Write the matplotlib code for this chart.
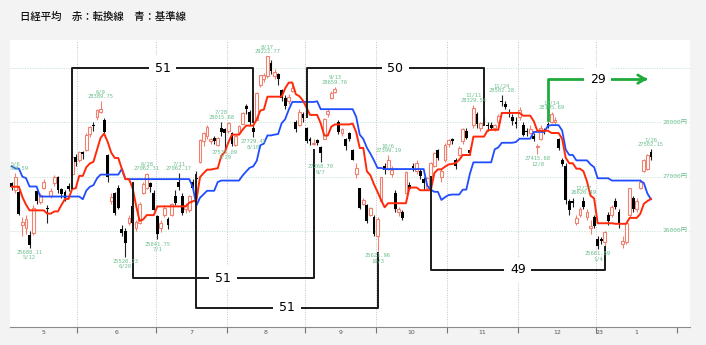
import numpy as np
import pandas as pd
import matplotlib
matplotlib.use("Agg")
import matplotlib.pyplot as plt

plt.rcParams['font.family'] = ['DejaVu Sans', 'Noto Sans CJK JP']

# 日経平均 日足 2022/5/2 - 2023/1/26
opens = [
    26880, 26760, 26720, 26100, 26050, 25920, 25960, 26740, 26540, 26800, 26430, 26650, 26880, 27000, 26780, 26720, 26830, 27050, 27370,
    27300, 27450, 27500, 27780, 27960, 28100, 28200, 28050, 27400, 26550, 26700, 26800, 26030, 26000, 26150, 26460, 26060, 26150, 26700, 26800, 26880, 26700,
    26280, 26050, 26300, 26220, 26300, 26650, 26900, 26650, 26400, 26380, 26900, 26980, 27280, 27650, 27760, 27660, 27720, 27580, 27900, 27880,
    27850, 27800, 27580, 27800, 27980, 28300, 28200, 27900, 28050, 28700, 28800, 28850, 29100, 28850, 28900, 28600, 28450, 28400, 28580, 28000, 27950, 28150,
    27900, 27700, 27600, 27680, 27550, 27700, 28150, 28450, 28560, 28000, 27800, 27700, 27800, 27500, 27050, 26800, 26500, 26480, 26300, 26250,
    25900, 26550, 27200, 27150, 27050, 26700, 26350, 26350, 26700, 26850, 27200, 27100, 27100, 26950, 26800, 27000, 27200, 27500, 27000, 27300,
    27600, 27700, 27300, 27400, 27650, 27850, 27500, 27950, 28150, 27900, 28050, 27950, 27950, 27900, 28000, 28400, 28350, 28200, 28100, 28000,
    28100, 27950, 27850, 27800, 27750, 27550, 27700, 27850, 27980, 28000, 28000, 27700, 27300, 27200, 26550, 26550, 26150, 26300, 26550, 26250, 26050, 26250,
    25850, 25850, 25800, 26300, 26300, 26550, 26350, 25750, 25800, 26300, 26600, 26400, 26800, 27100, 27150, 27450,
]
highs = [
    26910, 27069.59, 26760, 26250, 26300, 26000, 26470, 26760, 26700, 26950, 26470, 26800, 27030, 27020, 26800, 26750, 26880, 27400, 27420,
    27480, 27470, 27800, 27940, 28000, 28250, 28389.75, 28080, 27420, 26700, 26720, 26850, 26100, 26050, 26300, 26480, 26200, 26530, 26900, 27062.31, 26900, 26750,
    26300, 26200, 26470, 26260, 26520, 26750, 27062.17, 26700, 26520, 26670, 26960, 27100, 27700, 27830, 27960, 27720, 27760, 27730, 28015.68, 27900,
    28010, 27820, 27760, 27950, 28200, 28350, 28230, 27950, 28560, 28880, 28920, 29222.77, 29150, 28990, 28920, 28620, 28500, 28530, 28700, 28050, 28250, 28200,
    27920, 27730, 27700, 27700, 27560, 28080, 28250, 28580, 28659.76, 28050, 27900, 27720, 27820, 27520, 27250, 26750, 26600, 26500, 26450, 26300,
    26250, 27000, 27250, 27399.19, 27200, 26750, 26450, 26380, 27100, 26900, 27250, 27300, 27150, 27000, 27000, 27270, 27450, 27520, 27150, 27620,
    27700, 27720, 27350, 27560, 27900, 27900, 27550, 28329.54, 28200, 28000, 28100, 28000, 28000, 27980, 28150, 28502.28, 28400, 28250, 28150, 28100,
    28280, 28000, 27900, 27950, 27800, 27600, 27950, 27900, 28000, 28195.69, 28100, 27720, 27350, 27250, 26580, 26600, 26300, 26450, 26620.49, 26400, 26200, 26300,
    25900, 25880, 26000, 26350, 26480, 26600, 26400, 25900, 26150, 26800, 26650, 26600, 26950, 27320, 27420, 27502.15,
]
lows = [
    26760, 26700, 26290, 25900, 25950, 25688.11, 25930, 26490, 26500, 26780, 26150, 26600, 26830, 26700, 26600, 26550, 26740, 27040, 27200,
    27280, 27330, 27480, 27740, 27850, 28050, 28180, 27800, 26900, 26500, 26300, 26400, 25900, 25520.23, 26100, 26100, 26000, 26130, 26680, 26780, 26720, 26380,
    25841.75, 25980, 26250, 26030, 26280, 26480, 26750, 26300, 26330, 26350, 26750, 26900, 27250, 27560, 27700, 27600, 27600, 27560, 27760, 27535.09,
    27800, 27560, 27560, 27780, 27970, 28150, 27950, 27729.45, 28040, 28650, 28750, 28830, 28900, 28800, 28700, 28400, 28250, 28350, 28560, 27820, 27930, 28000,
    27630, 27580, 27580, 27580, 27268.70, 27690, 28100, 28430, 28540, 27780, 27760, 27500, 27650, 27300, 26980, 26400, 26480, 26150, 26280, 25900,
    25621.96, 26540, 27050, 27120, 27000, 26350, 26280, 26200, 26680, 26750, 27100, 27050, 26950, 26750, 26780, 26950, 27180, 27300, 26900, 27280,
    27550, 27600, 27150, 27380, 27600, 27700, 27400, 27900, 27900, 27850, 27950, 27850, 27880, 27850, 27980, 28300, 28250, 28100, 27950, 27900,
    28050, 27750, 27750, 27780, 27650, 27415.68, 27680, 27780, 27900, 27990, 27980, 27500, 27200, 26500, 26300, 26450, 26100, 26250, 26400, 26200, 25950, 26050,
    25661.89, 25750, 25700, 26100, 26250, 26400, 26050, 25680, 25750, 26250, 26350, 26350, 26780, 27080, 27120, 27300,
]
closes = [
    26818.53, 27003.56, 26319.34, 26167.10, 26213.64, 25748.72, 26427.65, 26547.05, 26659.75, 26911.20, 26402.84, 26739.03, 27001.52, 26748.14, 26677.80, 26604.84, 26781.68, 27369.43, 27279.80,
    27457.89, 27413.88, 27761.57, 27915.89, 27943.95, 28234.29, 28246.53, 27824.29, 26987.44, 26629.86, 26326.16, 26431.20, 25963.00, 25771.22, 26246.31, 26149.55, 26171.25, 26491.97, 26871.27, 27049.47, 26804.60, 26393.04,
    25935.62, 26153.81, 26423.47, 26107.65, 26490.53, 26517.19, 26812.30, 26336.66, 26478.77, 26643.39, 26788.47, 26961.68, 27680.26, 27803.00, 27914.66, 27699.25, 27655.21, 27715.75, 27815.48, 27801.64,
    27993.35, 27594.73, 27741.90, 27932.20, 28175.87, 28249.24, 27999.96, 27819.33, 28546.98, 28871.78, 28868.91, 29222.77, 28942.14, 28930.33, 28794.50, 28452.75, 28313.47, 28479.01, 28641.38, 27878.96, 28195.58, 28091.53,
    27661.47, 27650.84, 27619.61, 27626.51, 27430.30, 28065.28, 28214.75, 28542.11, 28614.63, 27818.62, 27875.91, 27567.65, 27688.42, 27313.13, 27153.83, 26431.55, 26571.87, 26173.98, 26422.05, 25937.21,
    26215.79, 26992.21, 27120.53, 27311.30, 27116.11, 26401.25, 26396.83, 26237.42, 27090.76, 26775.79, 27156.14, 27257.38, 27006.96, 26890.58, 26974.90, 27250.28, 27431.84, 27345.24, 27105.20, 27587.46,
    27678.92, 27663.39, 27199.74, 27527.64, 27872.11, 27716.43, 27446.10, 28263.57, 27963.47, 27990.17, 28028.30, 27930.57, 27899.77, 27944.79, 28115.74, 28383.09, 28283.03, 28162.83, 28027.84, 27968.99,
    28226.08, 27777.90, 27820.40, 27885.87, 27686.40, 27574.43, 27901.01, 27842.33, 27954.85, 28156.21, 28051.70, 27527.12, 27237.64, 26568.03, 26387.72, 26507.87, 26235.25, 26405.87, 26447.87, 26340.50, 26093.67, 26094.50,
    25716.86, 25820.80, 25973.85, 26175.56, 26446.00, 26449.61, 26119.52, 25822.32, 26138.68, 26791.12, 26405.23, 26553.53, 26906.04, 27299.19, 27395.01, 27362.75,
]

# 転換線・基準線の計算用 (2022/3/25 - 4/28)
pre_highs = [28338, 28200, 28252, 28100, 28050, 27900, 27850, 27950, 27550, 27100, 27100, 27000, 26600,
             26900, 27200, 27150, 26950, 27050, 27250, 27580, 27350, 26800, 26800, 26450, 26900]
pre_lows = [28100, 27800, 27900, 27900, 27750, 27500, 27650, 27700, 27300, 26800, 26900, 26750, 26304,
            26400, 26900, 27000, 26750, 26800, 26900, 27250, 27050, 26500, 26550, 26050, 26400]

month_labels = ["5", "6", "7", "8", "9", "10", "11", "12", "1"]
month_days = [19, 22, 20, 22, 20, 20, 20, 22, 16]

# 高値・安値の注記
label_days = [1, 5, 25, 32, 38, 41, 47, 59, 60, 68, 72, 87, 91, 103, 106, 130, 138, 148, 152, 161, 165, 180]
label_dates = ["5/6", "5/12", "6/9", "6/20", "6/28", "7/1", "7/11", "7/28", "7/29", "8/10", "8/17", "9/7",
               "9/13", "10/3", "10/6", "11/11", "11/24", "12/8", "12/14", "12/27", "1/4", "1/26"]
label_high = [True, False, True, False, True, False, True, True, False, False, True, False,
              True, False, True, True, True, False, True, True, False, True]

# 日数カウント (開始日, 終了日, 横線の高さ, 始点側の端, 終点側の端, 日数)
br_start = [17, 83, 34, 52, 118]
br_end = [68, 133, 85, 103, 167]
br_level = [29005, 29005, 25130, 24580, 25280]
br_from = [26800, 28100, 26880, 27030, 26990]
br_to = [28000, 27955, 27490, 25590, 25700]
br_text = ["51", "50", "51", "51", "49"]

arrow_start, arrow_end = 151, 179
arrow_level, arrow_from = 28800, 28050
arrow_text = "29"

price_lines = [26000, 27000, 28000, 29000]
price_labels = [26000, 27000, 28000]

assert len(opens) == len(highs) == len(lows) == len(closes) == sum(month_days)

o = np.array(opens, float)
h = np.array(highs, float)
l = np.array(lows, float)
c = np.array(closes, float)
x = np.arange(len(c))

# 一目均衡表
h_all = pd.Series(pre_highs + highs, dtype=float)
l_all = pd.Series(pre_lows + lows, dtype=float)
npre = len(pre_highs)
tenkan = ((h_all.rolling(9).max() + l_all.rolling(9).min()) / 2).values[npre:]
kijun = ((h_all.rolling(26).max() + l_all.rolling(26).min()) / 2).values[npre:]

green = '#6cbf8e'
up_col = '#f08070'

fig = plt.figure(figsize=(7.06, 3.45), dpi=100, facecolor='#f3f3f3')
ax = fig.add_axes([10 / 706, 18 / 345, 680 / 706, 287 / 345])
ax.set_facecolor('white')
ax.set_xlim(-0.5, 191)
ax.set_ylim(24227, 29522)

bounds = np.cumsum(month_days)[:-1] - 0.5
for p in price_lines:
    ax.axhline(p, color='#bfe2cd', lw=0.7, ls=(0, (1, 1.5)), zorder=0)
for b in bounds:
    ax.axvline(b, color='#c4c4c4', lw=0.7, ls=(0, (1, 1.5)), zorder=0)

up = c >= o
dn = ~up
ax.vlines(x[up], l[up], h[up], color=up_col, lw=0.8, zorder=2)
ax.vlines(x[dn], l[dn], h[dn], color='#222222', lw=0.8, zorder=2)
ax.bar(x[up], c[up] - o[up], 0.8, bottom=o[up], facecolor='white', edgecolor=up_col, lw=0.8, zorder=3)
ax.bar(x[dn], o[dn] - c[dn], 0.8, bottom=c[dn], color='black', lw=0, zorder=3)

ax.plot(x, kijun, color='#1f4cff', lw=1.3, zorder=4)
ax.plot(x, tenkan, color='#ff2a0a', lw=1.4, zorder=4)

for i, d, hi in zip(label_days, label_dates, label_high):
    if hi:
        ax.annotate(f"{d}\n{highs[i]:.2f}", (i, highs[i]), xytext=(0, 1.5), textcoords='offset points',
                    ha='center', va='bottom', fontsize=4, family='DejaVu Sans Mono', color=green,
                    linespacing=0.95, clip_on=True, zorder=6)
    else:
        ax.annotate(f"{lows[i]:.2f}\n{d}", (i, lows[i]), xytext=(0, -1.5), textcoords='offset points',
                    ha='center', va='top', fontsize=4, family='DejaVu Sans Mono', color=green,
                    linespacing=0.95, clip_on=True, zorder=6)

for s, e, lv, a0, a1, t in zip(br_start, br_end, br_level, br_from, br_to, br_text):
    ax.plot([s, s, e, e], [a0, lv, lv, a1], color='#1a1a1a', lw=1.4, zorder=5)
    ax.text((s + e) / 2, lv, t, ha='center', va='center', fontsize=9, color='black', zorder=6,
            bbox=dict(boxstyle='square,pad=0.45', fc='white', ec='none'))

ax.plot([arrow_start, arrow_start, arrow_end - 1], [arrow_from, arrow_level, arrow_level],
        color='#1faa3c', lw=2, zorder=5)
ax.annotate('', xy=(arrow_end, arrow_level), xytext=(arrow_end - 1.5, arrow_level),
            arrowprops=dict(arrowstyle='->,head_length=0.5,head_width=0.3', color='#1faa3c', lw=2), zorder=5)
ax.text((arrow_start + arrow_end) / 2, arrow_level, arrow_text, ha='center', va='center', fontsize=9,
        color='black', zorder=6, bbox=dict(boxstyle='square,pad=0.45', fc='white', ec='none'))

for p in price_labels:
    ax.text(0.997, p, f"{p}円", transform=ax.get_yaxis_transform(), ha='right', va='center',
            fontsize=4.5, family=['DejaVu Sans Mono', 'Noto Sans CJK JP'], color=green, zorder=6,
            bbox=dict(boxstyle='square,pad=0.2', fc='white', ec='none'))

for side in ['left', 'right', 'top']:
    ax.spines[side].set_visible(False)
ax.spines['bottom'].set_color('#8a8a8a')
ax.set_yticks([])

starts = np.concatenate([[-0.5], bounds])
ends = np.concatenate([bounds, [187.4]])
ax.set_xticks(list(bounds) + [187.4])
ax.set_xticklabels([])
ax.tick_params(axis='x', which='major', length=4, width=0.8, color='#777777')
centers = list((starts + ends) / 2)
ax.set_xticks(centers + [bounds[-1] + 1], minor=True)
ax.set_xticklabels(month_labels + ["23"], minor=True, fontsize=4.5, color='#555555')
ax.tick_params(axis='x', which='minor', length=0, pad=2)

fig.text(20 / 706, 1 - 17 / 345, "日経平均　赤：転換線　青：基準線", fontsize=7.5, fontweight='medium',
         family='Noto Sans CJK JP', va='center', ha='left', color='#111111')

fig.savefig("out.png", dpi=100, facecolor=fig.get_facecolor())
